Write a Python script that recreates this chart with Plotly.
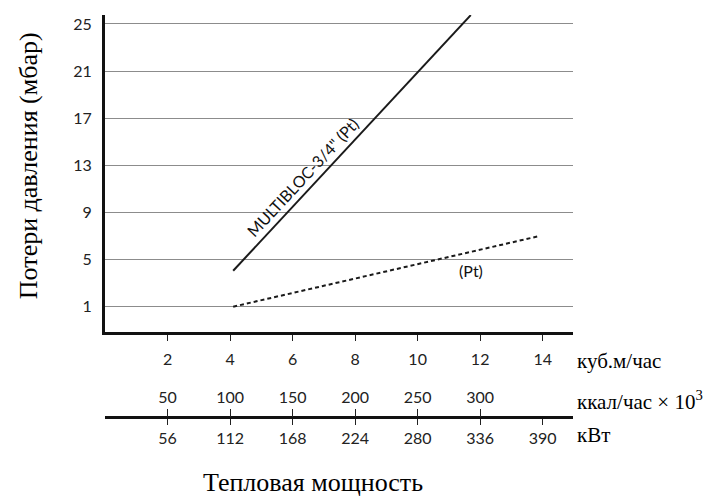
import plotly.graph_objects as go

# ---- data ----
flow_ticks = [2, 4, 6, 8, 10, 12, 14]               # куб.м/час
kcal_labels = ["50", "100", "150", "200", "250", "300"]   # ккал/час x 10^3
kw_labels = ["56", "112", "168", "224", "280", "336", "390"]  # кВт
pressure_ticks = [1, 5, 9, 13, 17, 21, 25]

multibloc_flow = [4.1, 11.7]
multibloc_dp = [4.05, 25.75]
pt_flow = [4.1, 13.9]
pt_dp = [1.0, 7.0]

X_RANGE = [0, 14.97]
Y_RANGE = [-1.15, 25.76]
Y_DOMAIN_BOTTOM = 0.2114

SANS = "Lato, 'Century Gothic', sans-serif"
SERIF = "'Liberation Serif', 'Times New Roman', serif"

fig = go.Figure()

fig.add_trace(go.Scatter(x=multibloc_flow, y=multibloc_dp, mode="lines",
                         line=dict(color="#1a1a1a", width=2), showlegend=False,
                         hoverinfo="skip"))
fig.add_trace(go.Scatter(x=pt_flow, y=pt_dp, mode="lines",
                         line=dict(color="#1a1a1a", width=2, dash="4px,3px"),
                         showlegend=False, hoverinfo="skip"))
# dummy traces so the extra scales are drawn
fig.add_trace(go.Scatter(x=[0, 14], y=[None, None], xaxis="x2", yaxis="y",
                         mode="lines", showlegend=False, hoverinfo="skip"))
fig.add_trace(go.Scatter(x=[0, 14], y=[None, None], xaxis="x3", yaxis="y",
                         mode="lines", showlegend=False, hoverinfo="skip"))

tickfont = dict(family=SANS, size=16, color="#222")

fig.update_layout(
    width=705, height=497,
    margin=dict(l=105, r=132, t=15, b=80),
    paper_bgcolor="white", plot_bgcolor="white",
    xaxis=dict(range=X_RANGE, tickvals=flow_ticks, ticks="outside", ticklen=6,
               tickwidth=1, tickcolor="#222", showline=True, linewidth=3,
               linecolor="#111", showgrid=False, zeroline=False,
               tickfont=tickfont, anchor="y", ticklabelstandoff=5),
    xaxis2=dict(range=X_RANGE, overlaying="x", anchor="free", position=0,
                side="bottom", tickvals=flow_ticks, ticktext=kw_labels,
                ticks="outside", ticklen=6, tickwidth=1, tickcolor="#222",
                showline=True, linewidth=3, linecolor="#111", showgrid=False,
                zeroline=False, tickfont=tickfont),
    xaxis3=dict(range=X_RANGE, overlaying="x", anchor="free", position=0,
                side="top", tickvals=flow_ticks[:len(kcal_labels)],
                ticktext=kcal_labels, ticks="outside", ticklen=8, tickwidth=1,
                tickcolor="#222", showline=False, showgrid=False,
                zeroline=False, tickfont=tickfont),
    yaxis=dict(range=Y_RANGE, domain=[Y_DOMAIN_BOTTOM, 1], tickvals=pressure_ticks,
               showgrid=True, gridcolor="#8c8c8c", gridwidth=1.2,
               showline=True, linewidth=3, linecolor="#111", ticks="",
               zeroline=False, tickfont=tickfont, ticklabelstandoff=7),
)

# small extensions of the axis lines beyond the crossing
fig.add_shape(type="line", xref="x", yref="paper", x0=-0.05, x1=-0.05,
              y0=Y_DOMAIN_BOTTOM, y1=0.19, line=dict(color="#111", width=3))
fig.add_shape(type="line", xref="x", yref="paper", x0=-0.22, x1=0,
              y0=0.2077, y1=0.2077, line=dict(color="#111", width=3))
fig.add_shape(type="line", xref="x", yref="paper", x0=-0.22, x1=0,
              y0=-0.0037, y1=-0.0037, line=dict(color="#111", width=3))

ann = []
ann.append(dict(text="Потери давления (мбар)", textangle=-90, xref="paper",
                yref="paper", x=-0.1645, y=0.624, xanchor="center",
                yanchor="middle", showarrow=False,
                font=dict(family=SERIF, size=26, color="black")))
ann.append(dict(text="куб.м/час", xref="paper", yref="paper", x=1.005, y=0.139,
                xanchor="left", yanchor="middle", showarrow=False,
                font=dict(family=SERIF, size=21, color="black")))
ann.append(dict(text="ккал/час × 10<sup>3</sup>", xref="paper", yref="paper",
                x=1.005, y=0.042, xanchor="left", yanchor="middle",
                showarrow=False,
                font=dict(family=SERIF, size=21, color="black")))
ann.append(dict(text="кВт", xref="paper", yref="paper", x=1.005, y=-0.045,
                xanchor="left", yanchor="middle", showarrow=False,
                font=dict(family=SERIF, size=21, color="black")))
ann.append(dict(text="Тепловая мощность", xref="paper", yref="paper", x=0.444,
                y=-0.164, xanchor="center", yanchor="middle", showarrow=False,
                font=dict(family=SERIF, size=26, color="black")))
ann.append(dict(text="MULTIBLOC-3/4\" (Pt)", xref="x", yref="y", x=6.3, y=12.0,
                textangle=-47, showarrow=False,
                font=dict(family=SANS, size=16, color="#111")))
ann.append(dict(text="(Pt)", xref="x", yref="y", x=11.7, y=4.05,
                showarrow=False, font=dict(family=SANS, size=16, color="#111")))
fig.update_layout(annotations=ann)

fig.write_html("out.html")
